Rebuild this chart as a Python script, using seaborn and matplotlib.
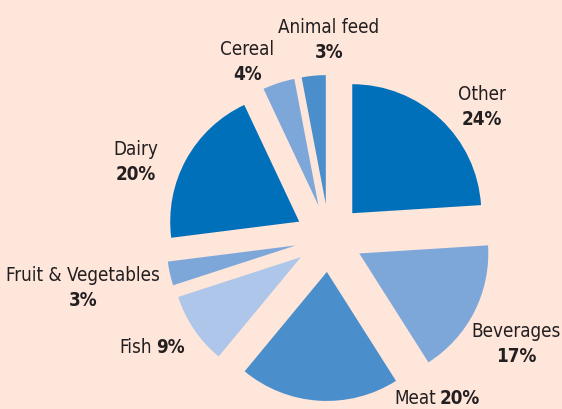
import matplotlib

matplotlib.use("Agg")
import matplotlib.pyplot as plt
import seaborn as sns

categories = ["Other", "Beverages", "Meat", "Fish", "Fruit & Vegetables", "Dairy", "Cereal", "Animal feed"]
shares = [24, 17, 20, 9, 3, 20, 4, 3]

W, H = 562, 409
BG = "#FEE6DA"
TEXT = "#231F20"
DARK, MID, LIGHT, PALE = "#0070BA", "#4A8ECC", "#7DA7D9", "#ADC6E9"
slice_colors = [DARK, LIGHT, MID, PALE, LIGHT, DARK, LIGHT, MID]

# label anchors in pixel coords (x centre / split point, baseline y from top)
label_layout = {
    "Other": (482, 100, "stack"),
    "Beverages": (516, 337, "stack"),
    "Meat": (438, 404, "inline"),
    "Fish": (154, 353, "inline"),
    "Fruit & Vegetables": (83, 281, "stack"),
    "Dairy": (136, 155, "stack"),
    "Cereal": (247, 55, "stack"),
    "Animal feed": (329, 33, "stack"),
}

sns.set_theme(style="white")
plt.rcParams["font.family"] = ["DejaVu Sans"]
plt.rcParams["font.stretch"] = "condensed"

fig = plt.figure(figsize=(W / 100, H / 100), dpi=100, facecolor=BG)
ax = fig.add_axes([0, 0, 1, 1])
ax.set_facecolor(BG)

ax.pie(
    shares,
    colors=slice_colors,
    startangle=90,
    counterclock=False,
    radius=129,
    center=(329, H - 238),
    explode=[34] * len(shares),
    wedgeprops=dict(linewidth=0),
    frame=True,
)
ax.set_xlim(0, W)
ax.set_ylim(0, H)
ax.set_aspect("equal")
ax.axis("off")

fs = 13.5
for name, value in zip(categories, shares):
    x, base, mode = label_layout[name]
    pct = f"{value}%"
    if mode == "stack":
        ax.text(x, H - base, name, ha="center", va="baseline", fontsize=fs, color=TEXT)
        ax.text(x, H - base - 25, pct, ha="center", va="baseline", fontsize=fs,
                fontweight="bold", color=TEXT)
    else:
        ax.text(x - 2, H - base, name, ha="right", va="baseline", fontsize=fs, color=TEXT)
        ax.text(x + 2, H - base, pct, ha="left", va="baseline", fontsize=fs,
                fontweight="bold", color=TEXT)

fig.savefig("out.png", dpi=100, facecolor=BG)
